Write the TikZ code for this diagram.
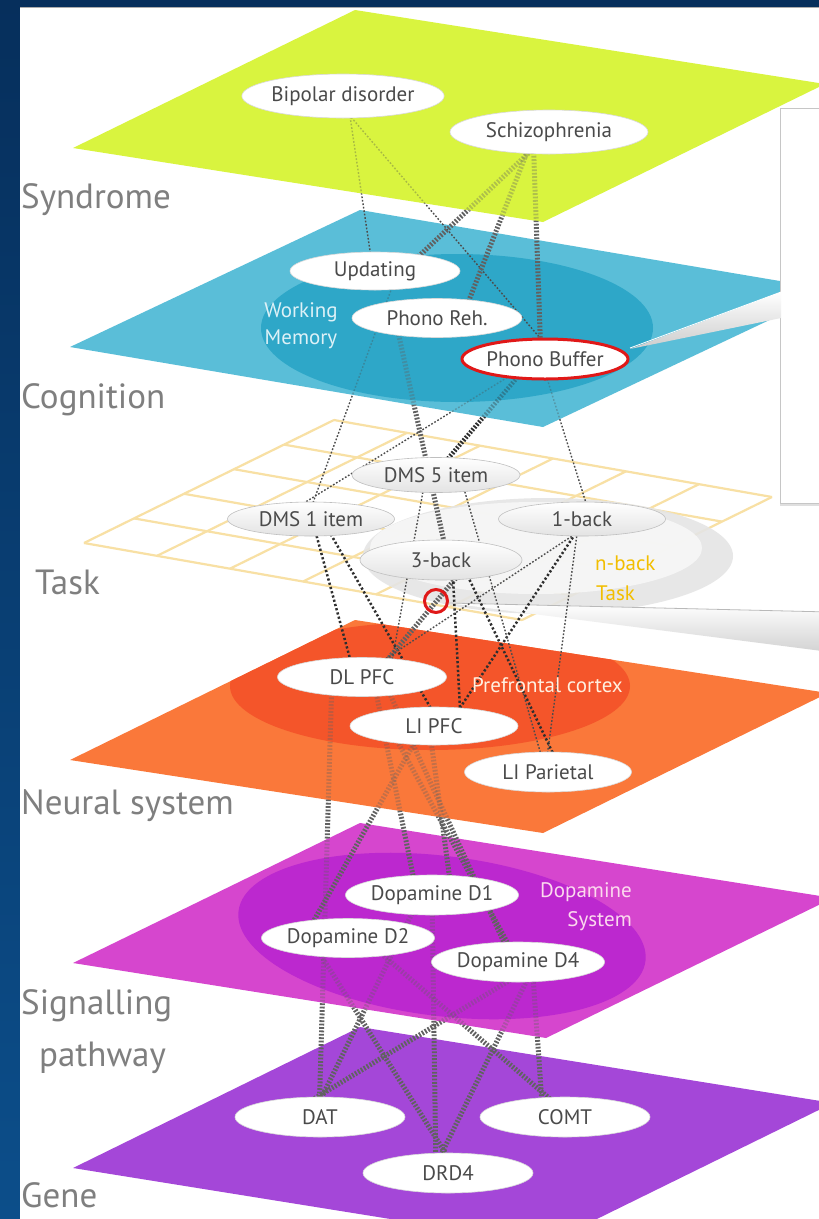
\documentclass[tikz,border=0pt]{standalone}
\usepackage{fontspec}
\setmainfont{PT Sans}
\usetikzlibrary{shapes.geometric,calc,shadows}
\definecolor{navyA}{HTML}{062F5C}
\definecolor{navyB}{HTML}{0C4E8A}
\definecolor{synd}{HTML}{D9F43F}
\definecolor{cogn}{HTML}{5ABED8}
\definecolor{cognD}{HTML}{2EA7C8}
\definecolor{neur}{HTML}{FA783A}
\definecolor{neurD}{HTML}{F4552A}
\definecolor{sign}{HTML}{D646CE}
\definecolor{signD}{HTML}{BC28CF}
\definecolor{gene}{HTML}{A447D8}
\definecolor{gridc}{HTML}{F8E0A4}
\definecolor{nback}{HTML}{F2BE00}
\definecolor{lab}{HTML}{7F7F7F}
\definecolor{txt}{HTML}{4A4A4A}
\definecolor{wm}{HTML}{DDF1F7}
\definecolor{redring}{HTML}{E01818}
\pgfdeclarelayer{planes}
\pgfdeclarelayer{links}
\pgfsetlayers{planes,links,main}
\def\plY{(355,10) -- (825,84) -- (543,222) -- (73,148) -- cycle}
\def\plC{(360,210) -- (833,290) -- (543,427) -- (70,347) -- cycle}
\def\plN{(355,620) -- (828,693) -- (543,833) -- (70,760) -- cycle}
\def\plS{(360,823) -- (833,898) -- (546,1038) -- (73,963) -- cycle}
\def\plG{(360,1027) -- (833,1103) -- (546,1244) -- (73,1168) -- cycle}
\newcommand{\fadedlinks}[2]{%
  \begin{scope}\clip (-60,-60) -- (-60,1280) -- (880,1280) -- (880,-60) -- cycle #1;#2\end{scope}%
  \begin{scope}[opacity=0.35]\clip #1;#2\end{scope}}
\begin{document}
\begin{tikzpicture}[x=1pt,y=-1pt,
  pnode/.style={ellipse, fill=white, draw=gray!30, line width=0.6pt, inner sep=0pt, text=txt,
    font=\fontsize{21}{23}\selectfont, minimum width=170pt, minimum height=40pt},
  tnode/.style={pnode, top color=white, bottom color=gray!22, draw=gray!50},
  cthin/.style={draw=black!70, line width=1.4pt, dash pattern=on 1.7pt off 1.8pt},
  cmid/.style={draw=black!82, line width=2.5pt, dash pattern=on 2.2pt off 2.2pt},
  chatch/.style={draw=black!62, line width=5pt, dash pattern=on 1.8pt off 1.6pt},
  chatchd/.style={draw=black!82, line width=4.5pt, dash pattern=on 1.8pt off 1.6pt},
  layerlabel/.style={text=lab, font=\fontsize{35}{38}\selectfont, anchor=base west, inner sep=0pt},
  regionlabel/.style={font=\fontsize{21}{23}\selectfont, inner sep=0pt},
  gridline/.style={draw=gridc, line width=2.2pt}]
\useasboundingbox (0,0) rectangle (819,1219);

% ---------------- nodes ----------------
\node[pnode, minimum width=201pt, minimum height=44pt] (bip) at (343,96) {Bipolar disorder};
\node[pnode, minimum width=198pt, minimum height=44pt] (sch) at (549,132) {Schizophrenia};
\node[pnode, minimum height=38pt] (upd) at (375,271) {Updating};
\node[pnode, minimum height=39pt] (reh) at (437,318) {Phono Reh.};
\node[pnode, minimum width=166pt, minimum height=40pt, draw=redring, line width=3pt] (buf) at (545,359) {Phono Buffer};
\node[tnode, minimum width=168pt, minimum height=35pt] (dms5) at (436,475) {DMS 5 item};
\node[tnode, minimum width=167pt, minimum height=34pt] (dms1) at (311,519) {DMS 1 item};
\node[tnode, minimum width=167pt, minimum height=34pt] (oneb) at (582,519) {1-back};
\node[tnode, minimum width=162pt, minimum height=40pt] (threeb) at (441,560) {3-back};
\node[pnode, minimum width=169pt, minimum height=39pt] (dl) at (362,677) {DL PFC};
\node[pnode, minimum width=168pt, minimum height=38pt] (lipfc) at (434,726) {LI PFC};
\node[pnode, minimum width=167pt, minimum height=40pt] (lipar) at (548,772) {LI Parietal};
\node[pnode] (d1) at (432,895) {Dopamine D1};
\node[pnode, minimum height=39pt] (d2) at (348,938) {Dopamine D2};
\node[pnode] (d4) at (518,962) {Dopamine D4};
\node[pnode] (dat) at (320,1117) {DAT};
\node[pnode] (comt) at (565,1117) {COMT};
\node[pnode] (drd4) at (448,1173) {DRD4};
\node[circle, draw=redring, line width=3pt, minimum size=23pt, inner sep=0pt] (ring) at (436,601) {};

% region labels
\node[regionlabel, text=wm, anchor=base] (wm1) at (301,317) {Working};
\node[regionlabel, text=wm, anchor=base] (wm2) at (301,344) {Memory};
\node[regionlabel, text=nback, anchor=base west] (nb1) at (595,570) {n-back};
\node[regionlabel, text=nback, anchor=base west] (nb2) at (596,600) {Task};
\node[regionlabel, text=white!88!orange, anchor=base west] (pfc) at (472,692) {Prefrontal cortex};
\node[regionlabel, text=white!85!magenta, anchor=base east] (ds1) at (632,897) {Dopamine};
\node[regionlabel, text=white!85!magenta, anchor=base east] (ds2) at (632,926) {System};

% layer labels
\node[layerlabel] (lsyn) at (21,208) {Syndrome};
\node[layerlabel] (lcog) at (21,408) {Cognition};
\node[layerlabel] (ltask) at (35,594) {Task};
\node[layerlabel] (lneu) at (21,814) {Neural system};
\node[layerlabel] (lsig) at (21,1014) {Signalling};
\node[layerlabel] (lpat) at (39,1066) {pathway};
\node[layerlabel] (lgen) at (21,1207) {Gene};

% ---------------- planes ----------------
\begin{pgfonlayer}{planes}
\shade[top color=navyA, bottom color=navyB] (0,0) rectangle (819,1219);
\fill[white] (20,8) rectangle (819,1219);
\draw[gray!65, line width=1.4pt] (20,7.5) -- (819,7.5);
% gene
\fill[gene] \plG;
% signalling
\fill[sign] \plS;
\begin{scope}\clip \plS;
  \begin{scope}[shift={(442,936)}, rotate=-7]
    \fill[signD] (0,0) ellipse [x radius=205pt, y radius=80pt];
  \end{scope}
\end{scope}
% neural
\fill[neur] \plN;
\begin{scope}\clip \plN;
  \fill[neurD] (430,686) ellipse [x radius=200pt, y radius=64pt];
\end{scope}
% task grid
\foreach \j in {0,...,5}
  \draw[gridline] ($(334,420)!\j/5!(84,543)$) -- ($(772,497)!\j/5!(522,620)$);
\foreach \i in {0,...,6}
  \draw[gridline] ($(334,420)!\i/6!(772,497)$) -- ($(84,543)!\i/6!(522,620)$);
\fill[gray!20, opacity=0.9] (548,556) ellipse [x radius=185pt, y radius=58pt];
\fill[gray!6, opacity=0.9] (536,548) ellipse [x radius=166pt, y radius=46pt];
% cognition
\fill[cogn] \plC;
\begin{scope}\clip \plC;
  \fill[cognD] (457,328) ellipse [x radius=196pt, y radius=74pt];
\end{scope}
% callout box and pointer
\draw[gray!45, line width=1pt, fill=white, drop shadow={shadow xshift=0pt, shadow yshift=-3pt, opacity=0.25}] (780,108) rectangle (850,503);
\shade[top color=white, bottom color=gray!40] (630,349) -- (781,292) -- (781,318) -- cycle;
\draw[white, line width=0.8pt] (630,348) -- (781,292);
% syndrome
\fill[synd] \plY;
% task callout pointer
\shade[top color=white, bottom color=gray!35] (448,603) -- (830,612) -- (830,652) -- cycle;
\draw[gray!55, line width=0.8pt] (448,603) -- (830,612);
\end{pgfonlayer}

% ---------------- connectors ----------------
\begin{pgfonlayer}{links}
\fadedlinks{\plY}{%
  \draw[cthin] ([xshift=4pt]bip.center) -- ([xshift=-2pt]upd.center);
  \draw[cthin] ([xshift=-10pt]bip.center) -- ([xshift=13pt]buf.center);
  \draw[chatch] ([xshift=2pt]sch.center) -- ([xshift=28pt]upd.center);
  \draw[chatch] ([xshift=-14pt]sch.center) -- ([xshift=25pt]reh.center);
  \draw[chatch] ([xshift=-16pt]sch.center) -- ([xshift=-4pt]buf.center);}
\fadedlinks{\plC}{%
  \draw[cthin] ([xshift=23pt]upd.center) -- ([xshift=-4pt]dms1.center);
  \draw[chatch] ([xshift=-42pt]reh.center) -- ([xshift=7pt]threeb.center);
  \draw[chatchd] ([xshift=-12pt]buf.center) -- ([xshift=-2pt]dms5.center);
  \draw[cthin] ([xshift=-8pt]buf.center) -- ([xshift=-33pt]dms1.center);
  \draw[cthin] ([xshift=-4pt]buf.center) -- ([xshift=9pt]oneb.center);}
\draw[cmid] ([xshift=1pt]dms1.center) -- ([xshift=-7pt]dl.center);
\draw[cmid] ([xshift=11pt]dms1.center) -- ([xshift=7pt]lipfc.center);
\draw[chatch] ([xshift=30pt]threeb.center) -- ([xshift=11pt]dl.center);
\draw[cmid] ([xshift=11pt]threeb.center) -- ([xshift=27pt]lipfc.center);
\draw[cmid] ([xshift=19pt]threeb.center) -- ([xshift=14pt]lipar.center);
\draw[cmid] ([xshift=3pt]oneb.center) -- ([xshift=14pt]lipfc.center);
\draw[cthin] ([xshift=16pt]oneb.center) -- ([xshift=-4pt]dl.center);
\draw[cthin] ([xshift=-3pt]oneb.center) -- ([xshift=-3pt]lipar.center);
\draw[cthin] ([xshift=24pt]dms5.center) -- ([xshift=-2pt]lipar.center);
\draw[cthin] ([xshift=-10pt]dms5.center) -- ([xshift=27pt]dl.center);
\fadedlinks{\plN}{%
  \draw[chatch] ([xshift=-10pt]lipfc.center) -- ([xshift=-44pt]d2.center);
  \draw[chatch] ([xshift=11pt]dl.center) -- ([xshift=-15pt]d1.center);
  \draw[chatch] ([xshift=-5pt]lipfc.center) -- ([xshift=20pt]d1.center);
  \draw[chatch] ([xshift=20pt]dl.center) -- ([xshift=-5pt]d4.center);
  \draw[chatch] ([xshift=-45pt]lipfc.center) -- (d4.center);}
\fadedlinks{\plN \plS}{%
  \draw[chatch] ([xshift=-30pt]dl.center) -- ([xshift=-1pt]dat.center);}
\fadedlinks{\plS}{%
  \draw[chatch] ([xshift=-11pt]d1.center) -- ([xshift=-8pt]dat.center);
  \draw[chatch] (d1.center) -- ([xshift=-12pt]drd4.center);
  \draw[chatch] ([xshift=-38pt]d2.center) -- ([xshift=10pt]drd4.center);
  \draw[chatch] ([xshift=15pt]d2.center) -- ([xshift=6pt]comt.center);
  \draw[chatch] ([xshift=22pt]d4.center) -- ([xshift=-36pt]dat.center);
  \draw[chatch] ([xshift=18pt]d4.center) -- ([xshift=-16pt]drd4.center);
  \draw[chatch] ([xshift=14pt]d4.center) -- ([xshift=-22pt]comt.center);}
\end{pgfonlayer}
\end{tikzpicture}
\end{document}
